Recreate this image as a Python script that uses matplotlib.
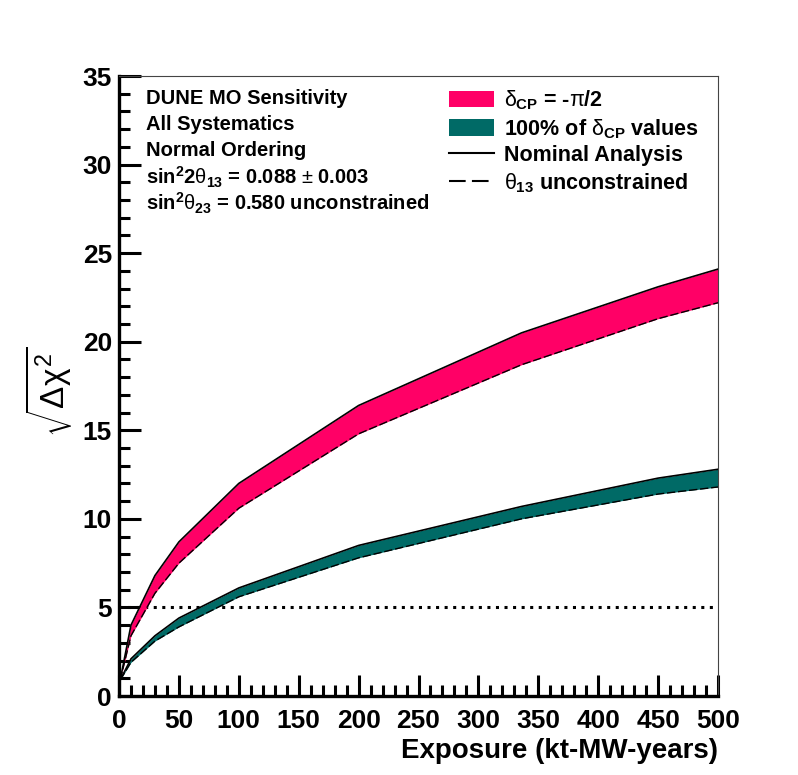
import matplotlib
matplotlib.use('Agg')
import matplotlib.pyplot as plt
from matplotlib.patches import Patch
from matplotlib.lines import Line2D
from matplotlib.ticker import MultipleLocator

plt.rcParams['font.family'] = ['Liberation Sans', 'DejaVu Sans']
plt.rcParams['mathtext.fontset'] = 'custom'
plt.rcParams['mathtext.rm'] = 'Liberation Sans'
plt.rcParams['mathtext.it'] = 'Liberation Sans'
plt.rcParams['mathtext.bf'] = 'Liberation Sans:bold'

# Ekspozycja (kt-MW-lata)
exposure = [1, 10, 30, 50, 100, 200, 336, 450, 500]

# delta_CP = -pi/2
pink_nominal = [0.9, 4.0, 6.8, 8.7, 12.0, 16.4, 20.5, 23.1, 24.1]
pink_th13 = [0.9, 3.4, 5.8, 7.5, 10.6, 14.8, 18.7, 21.3, 22.2]

# 100% wartosci delta_CP
teal_nominal = [0.9, 2.1, 3.4, 4.4, 6.1, 8.5, 10.7, 12.3, 12.8]
teal_th13 = [0.9, 1.9, 3.1, 3.9, 5.6, 7.8, 10.0, 11.4, 11.8]

threshold = 5

pink = '#ff0066'
teal = '#006a66'

fig = plt.figure(figsize=(7.98, 7.75), dpi=100)
ax = fig.add_axes([119/798, 1 - 696/775, 599/798, 620/775])

ax.plot([0, 500], [threshold, threshold], color='black', lw=2.2,
        linestyle=(0, (1, 1.8)), zorder=1)

ax.fill_between(exposure, pink_th13, pink_nominal, color=pink, lw=0, zorder=2)
ax.fill_between(exposure, teal_th13, teal_nominal, color=teal, lw=0, zorder=2)
for nom, th in [(pink_nominal, pink_th13), (teal_nominal, teal_th13)]:
    ax.plot(exposure, nom, color='black', lw=1.2, zorder=3)
    ax.plot(exposure, th, color='black', lw=1.0, linestyle=(0, (6, 2)), zorder=3)

ax.set_xlim(0, 500)
ax.set_ylim(0, 35)
ax.xaxis.set_major_locator(MultipleLocator(50))
ax.xaxis.set_minor_locator(MultipleLocator(10))
ax.yaxis.set_major_locator(MultipleLocator(5))
ax.yaxis.set_minor_locator(MultipleLocator(1))

ax.tick_params(which='both', direction='in', width=2.2)
ax.tick_params(which='major', length=15, labelsize=19)
ax.tick_params(which='minor', length=8)
ax.tick_params(axis='y', which='major', length=16, pad=5)
ax.tick_params(axis='x', which='major', pad=9)
for lab in ax.get_xticklabels() + ax.get_yticklabels():
    lab.set_fontweight('bold')

for s in ['left', 'bottom']:
    ax.spines[s].set_linewidth(2.4)
for s in ['top', 'right']:
    ax.spines[s].set_linewidth(0.8)
    ax.spines[s].set_color('#444444')

ax.set_xlabel('Exposure (kt-MW-years)', loc='right', fontsize=20,
              fontweight='bold', labelpad=4)
fig.text(48/798, 1 - 392/775, r'$\sqrt{\Delta\chi^{2}}$', rotation=90,
         fontsize=24, ha='center', va='center')

info = [
    'DUNE MO Sensitivity',
    'All Systematics',
    'Normal Ordering',
    r'sin$^{\mathbf{2}}$2$\theta_{\mathbf{13}}$ = 0.088 $\pm$ 0.003',
    r'sin$^{\mathbf{2}}$$\theta_{\mathbf{23}}$ = 0.580 unconstrained',
]
info_y = [98, 124, 150, 177, 203]
for txt, py in zip(info, info_y):
    ax.text(0.045, (696 - py) / 620, txt, transform=ax.transAxes,
            fontsize=14.5, fontweight='bold', va='center', ha='left')

handles = [
    Patch(facecolor=pink, edgecolor='none'),
    Patch(facecolor=teal, edgecolor='none'),
    Line2D([0], [0], color='black', lw=1.5),
    Line2D([0], [0], color='black', lw=1.5, linestyle=(0, (8, 3))),
]
labels = [
    r'$\delta_{\mathbf{CP}}$ = -$\pi$/2',
    r'100% of $\delta_{\mathbf{CP}}$ values',
    'Nominal Analysis',
    r'$\theta_{\mathbf{13}}$ unconstrained',
]
ax.legend(handles, labels, loc='upper left', bbox_to_anchor=(0.533, 0.997),
          frameon=False, borderpad=0, handlelength=2.1, handleheight=0.8,
          handletextpad=0.45, labelspacing=0.22,
          prop={'size': 15.5, 'weight': 'bold'})

fig.savefig('out.png', dpi=100)
